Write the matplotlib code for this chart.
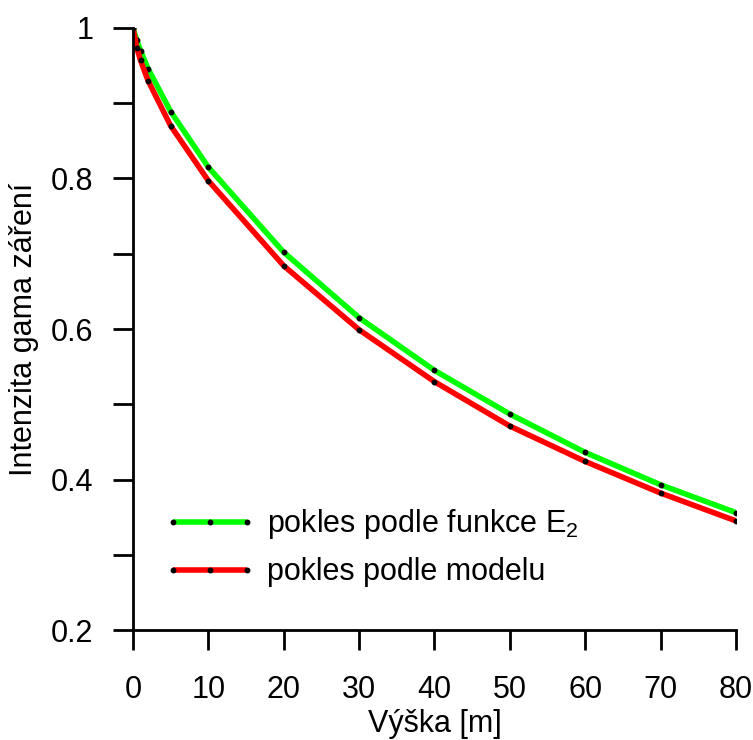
import matplotlib
matplotlib.use("Agg")
import matplotlib.pyplot as plt
from matplotlib.ticker import MultipleLocator

plt.rcParams['font.family'] = ['Liberation Sans', 'DejaVu Sans']
plt.rcParams['mathtext.fontset'] = 'custom'
plt.rcParams['mathtext.rm'] = 'Liberation Sans'
plt.rcParams['mathtext.it'] = 'Liberation Sans'

x_e2 = [0, 0.5, 1, 2, 5, 10, 20, 30, 40, 50, 60, 70, 80]
y_e2 = [1.0, 0.984, 0.970, 0.946, 0.889, 0.815, 0.702, 0.615, 0.545, 0.487, 0.436, 0.393, 0.356]
x_model = [0, 0.5, 1, 2, 5, 10, 20, 30, 40, 50, 60, 70, 80]
y_model = [1.0, 0.974, 0.957, 0.930, 0.870, 0.797, 0.684, 0.599, 0.530, 0.471, 0.424, 0.382, 0.345]

label_e2 = "pokles podle funkce E$_2$"
label_model = "pokles podle modelu"

FS = 22

fig = plt.figure(figsize=(7.53, 7.40), dpi=100)
ax = fig.add_axes([0.1766, 0.1486, 0.8008, 0.8136])

ax.plot(x_e2, y_e2, color='#00ff00', lw=4.0, marker='o', ms=3.2,
        mfc='black', mec='black', label=label_e2, solid_capstyle='butt')
ax.plot(x_model, y_model, color='#ff0000', lw=4.0, marker='o', ms=3.2,
        mfc='black', mec='black', label=label_model, solid_capstyle='butt')

ax.set_xlim(0, 80)
ax.set_ylim(0.2, 1.0)
ax.xaxis.set_major_locator(MultipleLocator(10))
ax.yaxis.set_minor_locator(MultipleLocator(0.1))
ax.set_yticks([0.2, 0.4, 0.6, 0.8, 1.0])
ax.set_yticklabels(['0.2', '0.4', '0.6', '0.8', '1'])

for s in ['top', 'right']:
    ax.spines[s].set_visible(False)
for s in ['left', 'bottom']:
    ax.spines[s].set_linewidth(2)

ax.tick_params(axis='both', which='both', direction='out', length=14.4, width=2,
               labelsize=FS)
ax.tick_params(axis='x', pad=18)
ax.tick_params(axis='y', which='both', pad=14)

ax.set_xlabel("Výška [m]", fontsize=FS)
ax.xaxis.label.set_va('baseline')
ax.xaxis.set_label_coords(0.5, -0.169)
ax.set_ylabel("Intenzita gama záření", fontsize=FS, labelpad=9)

leg = ax.legend(loc='upper left', bbox_to_anchor=(0.031, 0.224), borderaxespad=0,
                frameon=False, fontsize=FS, numpoints=3, handlelength=3.03,
                handletextpad=0.35, labelspacing=0.52)

fig.savefig("out.png", dpi=100)
